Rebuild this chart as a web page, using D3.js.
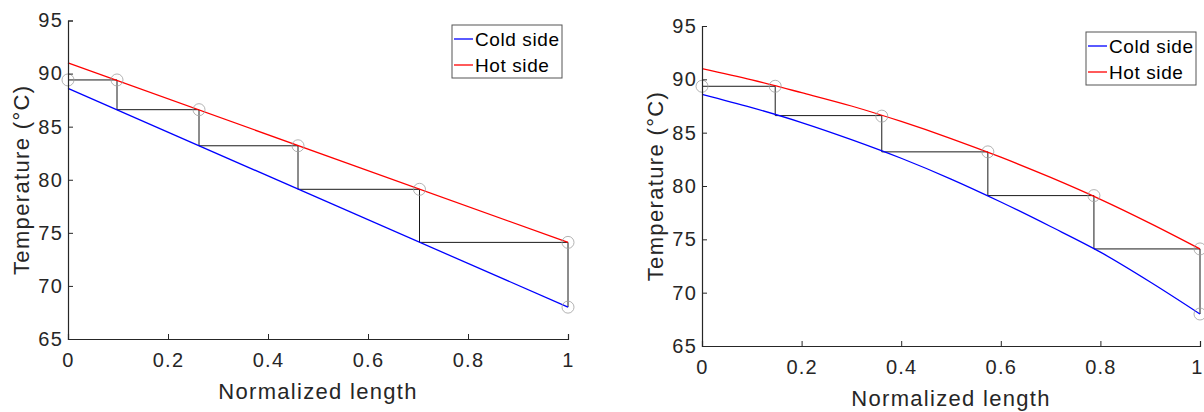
<!DOCTYPE html>
<html>
<head>
<meta charset="utf-8">
<script src="https://cdn.jsdelivr.net/npm/d3@7"></script>
<style>
  body { margin: 0; background: #fff; }
  svg { display: block; }
  text { font-family: "Liberation Sans", Arial, sans-serif; }
</style>
</head>
<body>
<div id="chart"></div>
<script>

var width = 1204, height = 412;

// x positions and temperatures
var xTicks = [0, 0.2, 0.4, 0.6, 0.8, 1];
var yTicks = [65, 70, 75, 80, 85, 90, 95];
var seriesNames = ["Cold side", "Hot side"];
var seriesColors = ["#0000ff", "#ff0000"];

// left panel: straight profiles
var linX = [0, 1];
var linCold = [88.6, 68.0];
var linHot = [91.0, 74.1];
var linStepX = [0, 0.098, 0.098, 0.262, 0.262, 0.46, 0.46, 0.703, 0.703, 1, 1];
var linStepY = [89.4, 89.4, 86.6, 86.6, 83.2, 83.2, 79.1, 79.1, 74.1, 74.1, 68.0];
var linMarkX = [0, 0.098, 0.262, 0.46, 0.703, 1, 1];
var linMarkY = [89.4, 89.4, 86.6, 83.2, 79.1, 74.1, 68.0];

// right panel: curved profiles
var curX = [0, 0.1, 0.2, 0.3, 0.4, 0.5, 0.6, 0.7, 0.8, 0.9, 1];
var curCold = [88.6, 87.35, 85.95, 84.35, 82.6, 80.65, 78.5, 76.2, 73.8, 71.0, 68.0];
var curHot = [91.0, 89.95, 88.75, 87.5, 86.05, 84.45, 82.7, 80.8, 78.75, 76.5, 74.1];
var curStepX = [0, 0.147, 0.147, 0.361, 0.361, 0.574, 0.574, 0.787, 0.787, 1, 1];
var curStepY = [89.35, 89.35, 86.6, 86.6, 83.2, 83.2, 79.1, 79.1, 74.1, 74.1, 68.0];
var curMarkX = [0, 0.147, 0.361, 0.574, 0.787, 1, 1];
var curMarkY = [89.35, 89.35, 86.55, 83.2, 79.1, 74.1, 68.0];

var svg = d3.select("#chart").append("svg")
  .attr("width", width)
  .attr("height", height);

function zip(xs, ys) {
  return xs.map(function(x, i) { return [x, ys[i]]; });
}

function drawPanel(p) {
  var x = d3.scaleLinear().domain([0, 1]).range([p.left, p.right]);
  var y = d3.scaleLinear().domain([65, 95]).range([p.bottom, p.top]);
  var g = svg.append("g");

  var line = d3.line()
    .x(function(d) { return x(d[0]); })
    .y(function(d) { return y(d[1]); });
  var smooth = d3.line().curve(d3.curveMonotoneX)
    .x(function(d) { return x(d[0]); })
    .y(function(d) { return y(d[1]); });

  // stair lines
  g.append("path")
    .datum(zip(p.stepX, p.stepY))
    .attr("d", line)
    .attr("fill", "none")
    .attr("stroke", "#1a1a1a")
    .attr("stroke-width", 1);

  // cold / hot
  g.append("path")
    .datum(zip(p.xs, p.cold))
    .attr("d", smooth)
    .attr("fill", "none")
    .attr("stroke", seriesColors[0])
    .attr("stroke-width", 1.3);
  g.append("path")
    .datum(zip(p.xs, p.hot))
    .attr("d", smooth)
    .attr("fill", "none")
    .attr("stroke", seriesColors[1])
    .attr("stroke-width", 1.3);

  // markers
  g.selectAll("circle.mk")
    .data(zip(p.markX, p.markY))
    .enter().append("circle")
    .attr("class", "mk")
    .attr("cx", function(d) { return x(d[0]); })
    .attr("cy", function(d) { return y(d[1]); })
    .attr("r", 6)
    .attr("fill", "none")
    .attr("stroke", "#a0a0a0")
    .attr("stroke-width", 0.8);

  // axes, ticks inward like matlab
  var xAxis = g.append("g")
    .attr("transform", "translate(0," + p.bottom + ")")
    .call(d3.axisBottom(x).tickValues(xTicks).tickSize(-5).tickPadding(14)
      .tickFormat(function(d) { return d3.format("")(d); }));
  var yAxis = g.append("g")
    .attr("transform", "translate(" + p.left + ",0)")
    .call(d3.axisLeft(y).tickValues(yTicks).tickSize(-5).tickPadding(5));

  [xAxis, yAxis].forEach(function(a) {
    a.select(".domain").attr("stroke", "#262626").attr("stroke-width", 1.2);
    a.selectAll(".tick line").attr("stroke", "#262626");
    a.selectAll(".tick text")
      .attr("fill", "#262626")
      .style("font-size", "20px")
      .style("letter-spacing", "1.2px")
      .style("font-family", "'Liberation Sans', Arial, sans-serif");
  });
  // last x label sits on the window edge, pull it in a bit
  if (p.lastDx) {
    xAxis.selectAll(".tick text").filter(function(d) { return d === 1; })
      .attr("dx", p.lastDx);
  }

  g.append("text")
    .attr("x", (p.left + p.right) / 2)
    .attr("y", p.bottom + 60)
    .attr("text-anchor", "middle")
    .attr("fill", "#262626")
    .style("font-size", "22px")
    .style("letter-spacing", "1.3px")
    .text("Normalized length");

  g.append("text")
    .attr("transform", "translate(" + (p.left - 39) + "," + ((p.top + p.bottom) / 2) + ") rotate(-90)")
    .attr("text-anchor", "middle")
    .attr("fill", "#262626")
    .style("font-size", "22px")
    .style("letter-spacing", "1.35px")
    .text("Temperature (°C)");

  // legend
  var leg = g.append("g").attr("transform", "translate(" + p.legX + "," + p.legY + ")");
  leg.append("rect")
    .attr("width", 110)
    .attr("height", 53)
    .attr("fill", "#fff")
    .attr("stroke", "#555")
    .attr("stroke-width", 1);
  seriesNames.forEach(function(name, i) {
    var row = leg.append("g").attr("transform", "translate(0," + (14 + i * 26) + ")");
    row.append("line")
      .attr("x1", 2).attr("x2", 21)
      .attr("stroke", seriesColors[i])
      .attr("stroke-width", 1.3);
    row.append("text")
      .attr("x", 23)
      .attr("y", 7)
      .attr("fill", "#000")
      .style("font-size", "19px")
      .style("letter-spacing", "0.6px")
      .text(name);
  });
}

drawPanel({
  left: 68, right: 568, top: 20.5, bottom: 339,
  xs: linX, cold: linCold, hot: linHot,
  stepX: linStepX, stepY: linStepY, markX: linMarkX, markY: linMarkY,
  legX: 452, legY: 25
});

drawPanel({
  left: 702, right: 1200, top: 26, bottom: 346,
  xs: curX, cold: curCold, hot: curHot,
  stepX: curStepX, stepY: curStepY, markX: curMarkX, markY: curMarkY,
  legX: 1086, legY: 32, lastDx: -3
});

</script>
</body>
</html>
